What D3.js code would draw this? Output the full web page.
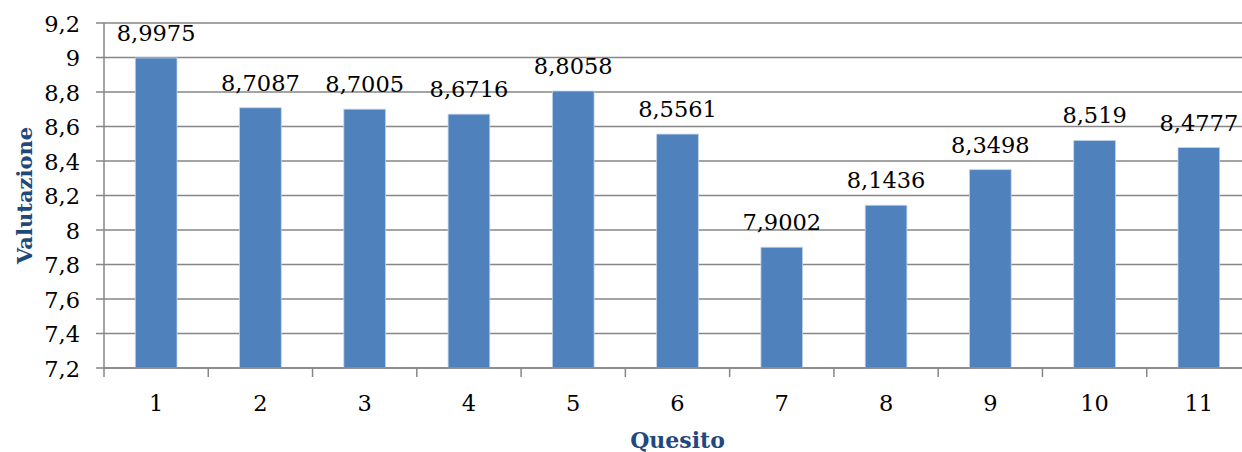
<!DOCTYPE html>
<html>
<head>
<meta charset="utf-8">
<script src="https://cdn.jsdelivr.net/npm/d3@7"></script>
<style>
  body { margin: 0; background: #fff; }
  svg { display: block; overflow: hidden; }
</style>
</head>
<body>
<div id="viz"></div>
<script>
// data
let quesiti = ['1', '2', '3', '4', '5', '6', '7', '8', '9', '10', '11'];
let valutazioni = [8.9975, 8.7087, 8.7005, 8.6716, 8.8058, 8.5561, 7.9002, 8.1436, 8.3498, 8.519, 8.4777];
let yTicks = [7.2, 7.4, 7.6, 7.8, 8, 8.2, 8.4, 8.6, 8.8, 9, 9.2];

let W = 1242, H = 452;
let margin = {top: 23, left: 104, bottom: 84},
    plotRight = 1251, // plot runs a little past the picture edge
    plotBottom = H - margin.bottom;

let fmt = v => String(v).replace('.', ',');
let serif = '"DejaVu Serif", Cambria, serif';

let svg = d3.select('#viz')
  .append('svg')
  .attr('width', W)
  .attr('height', H);

let x = d3.scaleBand()
  .domain(quesiti)
  .range([margin.left, plotRight])
  .paddingInner(0.6)
  .paddingOuter(0.3);

let y = d3.scaleLinear()
  .domain([7.2, 9.2])
  .range([plotBottom, margin.top]);

// grid lines
svg.append('g')
  .selectAll('line')
  .data(yTicks)
  .join('line')
  .attr('x1', margin.left - 8)
  .attr('x2', plotRight)
  .attr('y1', d => y(d))
  .attr('y2', d => y(d))
  .attr('stroke', '#868686')
  .attr('stroke-width', 1.5);

// y axis labels
svg.append('g')
  .selectAll('text')
  .data(yTicks)
  .join('text')
  .attr('x', 80)
  .attr('y', d => y(d))
  .attr('dy', '0.38em')
  .attr('text-anchor', 'end')
  .style('font-family', serif)
  .style('font-size', '22.5px')
  .style('fill', '#000')
  .text(d => fmt(d));

// bars
svg.append('g')
  .selectAll('rect')
  .data(valutazioni)
  .join('rect')
  .attr('x', (d, i) => x(quesiti[i]))
  .attr('y', d => y(d))
  .attr('width', x.bandwidth())
  .attr('height', d => plotBottom - y(d))
  .attr('fill', '#4F81BD')
  .attr('stroke', '#c3d4ea')
  .attr('stroke-width', 0.8);

// value labels
svg.append('g')
  .selectAll('text')
  .data(valutazioni)
  .join('text')
  .attr('x', (d, i) => x(quesiti[i]) + x.bandwidth() / 2)
  .attr('y', d => y(d) - 17)
  .attr('text-anchor', 'middle')
  .style('font-family', serif)
  .style('font-size', '22.5px')
  .style('fill', '#000')
  .text(d => fmt(d));

// axis lines
let step = x.step();
svg.append('line')
  .attr('x1', margin.left).attr('x2', margin.left)
  .attr('y1', margin.top).attr('y2', plotBottom + 9)
  .attr('stroke', '#868686').attr('stroke-width', 1.5);

svg.append('line')
  .attr('x1', margin.left).attr('x2', plotRight)
  .attr('y1', plotBottom).attr('y2', plotBottom)
  .attr('stroke', '#868686').attr('stroke-width', 1.5);

// x ticks at category boundaries
svg.append('g')
  .selectAll('line')
  .data(quesiti)
  .join('line')
  .attr('x1', d => x(d) - x.bandwidth() * 0.75 + step)
  .attr('x2', d => x(d) - x.bandwidth() * 0.75 + step)
  .attr('y1', plotBottom)
  .attr('y2', plotBottom + 9)
  .attr('stroke', '#868686')
  .attr('stroke-width', 1.5);

// x labels
svg.append('g')
  .selectAll('text')
  .data(quesiti)
  .join('text')
  .attr('x', d => x(d) + x.bandwidth() / 2)
  .attr('y', 411)
  .attr('text-anchor', 'middle')
  .style('font-family', serif)
  .style('font-size', '22.5px')
  .style('fill', '#000')
  .text(d => d);

// axis titles
svg.append('text')
  .attr('x', (margin.left + plotRight) / 2)
  .attr('y', 448)
  .attr('text-anchor', 'middle')
  .style('font-family', serif)
  .style('font-weight', 'bold')
  .style('font-size', '22px')
  .style('fill', '#1F497D')
  .text('Quesito');

svg.append('text')
  .attr('transform', `translate(32, ${(margin.top + plotBottom) / 2}) rotate(-90)`)
  .attr('text-anchor', 'middle')
  .style('font-family', serif)
  .style('font-weight', 'bold')
  .style('font-size', '21px')
  .style('fill', '#1F497D')
  .text('Valutazione');
</script>
</body>
</html>
